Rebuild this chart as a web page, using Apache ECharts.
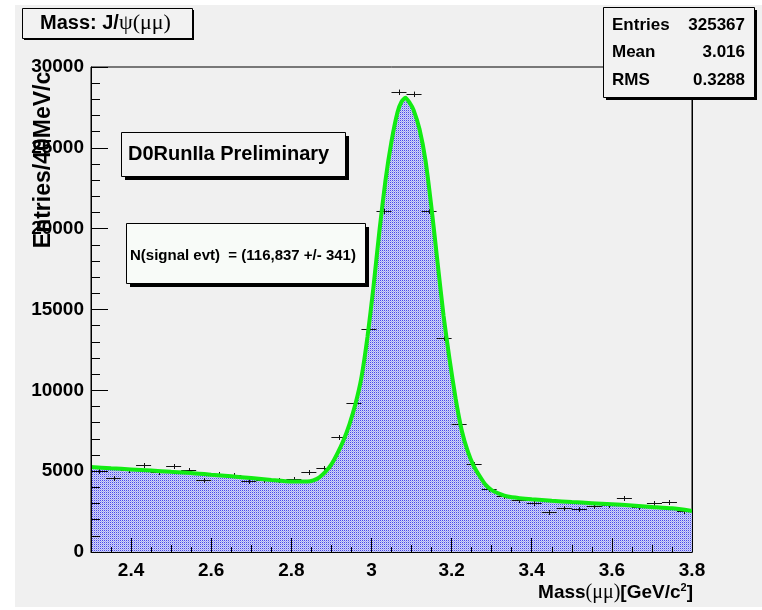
<!DOCTYPE html>
<html><head><meta charset="utf-8">
<script src="https://cdn.jsdelivr.net/npm/echarts@6/dist/echarts.min.js"></script>
<style>html,body{margin:0;padding:0;background:#fff}#c{width:762px;height:610px}</style>
</head><body><div id="c"></div>
<script>
// ---- data ----
const binLow = 2.3;
const binWidth = 0.0375;
const counts = [5030, 4600, 5100, 5400, 4950, 5340, 5070, 4450, 4820, 4760,
                4390, 4480, 4450, 4515, 4930, 5180, 7100, 9240, 13815, 21075,
                28435, 28310, 21075, 13255, 7900, 5425, 3900, 3450, 3200, 3050,
                2475, 2700, 2640, 2845, 2910, 3360, 2780, 3010, 3110, 2555];
const fitMass = [2.30, 2.35, 2.40, 2.45, 2.50, 2.55, 2.60, 2.65, 2.70, 2.75, 2.80, 2.84, 2.855, 2.87,
                 2.885, 2.90, 2.915, 2.93, 2.945, 2.96, 2.975, 2.99, 3.005, 3.02, 3.035, 3.05, 3.065,
                 3.075, 3.085, 3.095, 3.105, 3.12, 3.135, 3.15, 3.165, 3.18, 3.195, 3.21, 3.225, 3.24,
                 3.255, 3.27, 3.285, 3.30, 3.32, 3.34, 3.37, 3.40, 3.45, 3.50, 3.55, 3.60, 3.65, 3.70,
                 3.75, 3.80];
const fitValue = [5260, 5180, 5110, 5040, 4960, 4890, 4780, 4680, 4580, 4460, 4360, 4360, 4430, 4620,
                  4950, 5420, 6100, 6900, 7900, 9150, 10800, 13300, 16400, 19900, 23000, 25400, 27200,
                  27850, 28100, 27800, 27350, 26150, 24200, 21250, 17900, 14600, 11900, 9500, 7550, 6250,
                  5330, 4700, 4150, 3830, 3600, 3430, 3330, 3260, 3170, 3090, 3020, 2950, 2880, 2790,
                  2700, 2540];
const xLabelTicks = [2.4, 2.6, 2.8, 3.0, 3.2, 3.4, 3.6, 3.8];
const xMidTicks = [2.5, 2.7, 2.9, 3.1, 3.3, 3.5, 3.7];
const xMinorTicks = [2.35, 2.45, 2.55, 2.65, 2.75, 2.85, 2.95, 3.05, 3.15, 3.25, 3.35, 3.45, 3.55, 3.65, 3.75];
const yMin = 0, yMax = 30000, yStep = 5000;
const statsLabels = ['Entries', 'Mean', 'RMS'];
const statsValues = ['325367', '3.016', '0.3288'];
const titleText = '{b|Mass: J/}{g|ψ(μμ)}';
const xTitle = '{b|Mass}{g|(μμ)}{b|[GeV/c}{s|2}{b|]}';
const yTitle = 'Entries/40MeV/c';
const tagText = 'D0RunIIa Preliminary';
const signalText = 'N(signal evt)  = (116,837 +/- 341)';

// ---- rendering ----
const SANS = '"Liberation Sans", Arial, sans-serif';
const SERIF = '"Liberation Serif", "Times New Roman", serif';
const pc = document.createElement('canvas');
pc.width = 2; pc.height = 2;
const pctx = pc.getContext('2d');
pctx.fillStyle = '#d2d5f7'; pctx.fillRect(0, 0, 2, 2);
pctx.fillStyle = '#4848ea'; pctx.fillRect(0, 0, 1, 1);
pctx.fillStyle = '#a6aaf2'; pctx.fillRect(1, 1, 1, 1);

const crossData = counts.map((c, k) => [binLow + binWidth * (k + 0.5), c, Math.sqrt(c)]);
const fitData = fitMass.map((m, i) => [m, fitValue[i]]);

function box(x, y, w, h, sh, fill) {
  return [
    {type: 'rect', z: 100, shape: {x: x + sh, y: y + sh, width: w, height: h}, style: {fill: '#000'}},
    {type: 'rect', z: 101, shape: {x: x + 0.5, y: y + 0.5, width: w, height: h}, style: {fill: fill, stroke: '#000', lineWidth: 1}}
  ];
}
function txt(x, y, text, font, align) {
  return {type: 'text', z: 102, x: x, y: y, style: {text: text, font: font, fill: '#000', align: align || 'left', verticalAlign: 'middle'}};
}

const graphics = [
  {type: 'rect', z: 0, shape: {x: 0, y: 0, width: 15, height: 610}, style: {fill: '#fff'}},
  {type: 'rect', z: 0, shape: {x: 0, y: 0, width: 762, height: 5}, style: {fill: '#fff'}},
  {type: 'rect', z: 0, shape: {x: 0, y: 607, width: 762, height: 3}, style: {fill: '#fff'}},
  ...box(22, 8, 170, 30, 2, '#f2f2f2'),
  {type: 'text', z: 102, x: 40, y: 23, style: {text: titleText, fill: '#000', align: 'left', verticalAlign: 'middle',
    rich: {b: {fontFamily: SANS, fontWeight: 'bold', fontSize: 20, fill: '#000'},
           g: {fontFamily: SERIF, fontSize: 22, fill: '#000'}}}},
  ...box(603, 7, 151, 90, 3, '#f2f2f2'),
  ...box(121, 132, 224, 44, 4, '#f2f2f2'),
  txt(128, 154, tagText, 'bold 20px ' + SANS),
  ...box(126, 223, 239, 60, 4, '#f8fbf8'),
  txt(130, 256, signalText, 'bold 15px ' + SANS),
  {type: 'text', z: 102, x: 44, y: 160, rotation: Math.PI / 2,
   style: {text: yTitle, font: 'bold 23px ' + SANS, fill: '#000', align: 'center', verticalAlign: 'middle'}},
  {type: 'text', z: 102, x: 693, y: 593, style: {text: xTitle, fill: '#000', align: 'right', verticalAlign: 'middle',
    rich: {b: {fontFamily: SANS, fontWeight: 'bold', fontSize: 19, fill: '#000', lineHeight: 22},
           g: {fontFamily: SERIF, fontSize: 20, fill: '#000', lineHeight: 22},
           s: {fontFamily: SANS, fontWeight: 'bold', fontSize: 11, fill: '#000', verticalAlign: 'top', lineHeight: 22}}}}
];
const rowY = [25, 52, 80];
statsLabels.forEach((l, i) => {
  graphics.push(txt(612, rowY[i], l, 'bold 17px ' + SANS));
  graphics.push(txt(745, rowY[i], statsValues[i], 'bold 17px ' + SANS, 'right'));
});

const chart = echarts.init(document.getElementById('c'), null, {renderer: 'canvas'});
const tickLine = {color: '#000', width: 1};
const hiddenAxis = (vals, len) => ({
  type: 'value', min: 2.3, max: 3.8, position: 'bottom', z: 5,
  axisLine: {show: false}, axisLabel: {show: false}, splitLine: {show: false},
  axisTick: {show: true, inside: true, length: len, customValues: vals, lineStyle: tickLine}
});
chart.setOption({
  animation: false,
  backgroundColor: '#f0f0f0',
  grid: {left: 91, right: 70, top: 67, bottom: 58, containLabel: false, outerBoundsMode: 'none',
         show: true, borderColor: '#000', borderWidth: 1, backgroundColor: 'transparent'},
  xAxis: [
    {type: 'value', min: 2.3, max: 3.8, position: 'bottom', z: 5,
     axisLine: {show: true, lineStyle: tickLine},
     axisTick: {show: true, inside: true, length: 14, customValues: xLabelTicks, lineStyle: tickLine},
     axisLabel: {show: true, customValues: xLabelTicks, margin: 9, color: '#000', fontSize: 19,
                 fontWeight: 'bold', fontFamily: SANS, formatter: v => String(Number(v.toFixed(2)))},
     splitLine: {show: false}},
    hiddenAxis(xMidTicks, 7),
    hiddenAxis(xMinorTicks, 5)
  ],
  yAxis: [
    {type: 'value', min: yMin, max: yMax, interval: yStep, z: 5,
     axisLine: {show: true, lineStyle: tickLine},
     axisTick: {show: true, inside: true, length: 17, lineStyle: tickLine},
     minorTick: {show: true, splitNumber: 5, length: 9, lineStyle: tickLine},
     axisLabel: {margin: 7, color: '#000', fontSize: 19, fontWeight: 'bold', fontFamily: SANS,
                 formatter: v => String(v)},
     splitLine: {show: false}, minorSplitLine: {show: false}},
    {type: 'value', min: yMin, max: yMax, interval: yStep, position: 'right', z: 5,
     axisLine: {show: true, lineStyle: tickLine}, axisTick: {show: false}, axisLabel: {show: false},
     splitLine: {show: false}}
  ],
  series: [
    {type: 'line', name: 'fill', data: fitData, xAxisIndex: 0, yAxisIndex: 0, smooth: 0.2,
     symbol: 'none', z: 1, lineStyle: {width: 0, opacity: 0},
     areaStyle: {color: {image: pc, repeat: 'repeat'}, opacity: 1}},
    {type: 'custom', name: 'data', data: crossData, xAxisIndex: 0, yAxisIndex: 0, z: 2,
     renderItem: function (params, api) {
       const x = api.value(0), y = api.value(1), e = api.value(2);
       const pL = api.coord([x - binWidth / 2, y]);
       const pR = api.coord([x + binWidth / 2, y]);
       const pT = api.coord([x, y + e]);
       const pB = api.coord([x, y - e]);
       const yy = Math.round(pL[1]) + 0.5;
       const xx = Math.round(pT[0]) + 0.5;
       const top = Math.min(pT[1], yy - 2.5), bot = Math.max(pB[1], yy + 2.5);
       return {type: 'group', children: [
         {type: 'line', shape: {x1: pL[0], y1: yy, x2: pR[0], y2: yy}, style: {stroke: '#111', lineWidth: 1}},
         {type: 'line', shape: {x1: xx, y1: top, x2: xx, y2: bot}, style: {stroke: '#111', lineWidth: 1}}
       ]};
     }},
    {type: 'line', name: 'fit', data: fitData, xAxisIndex: 0, yAxisIndex: 0, smooth: 0.2,
     symbol: 'none', z: 3, lineStyle: {color: '#12ec12', width: 4}}
  ],
  graphic: graphics
});
</script></body></html>
